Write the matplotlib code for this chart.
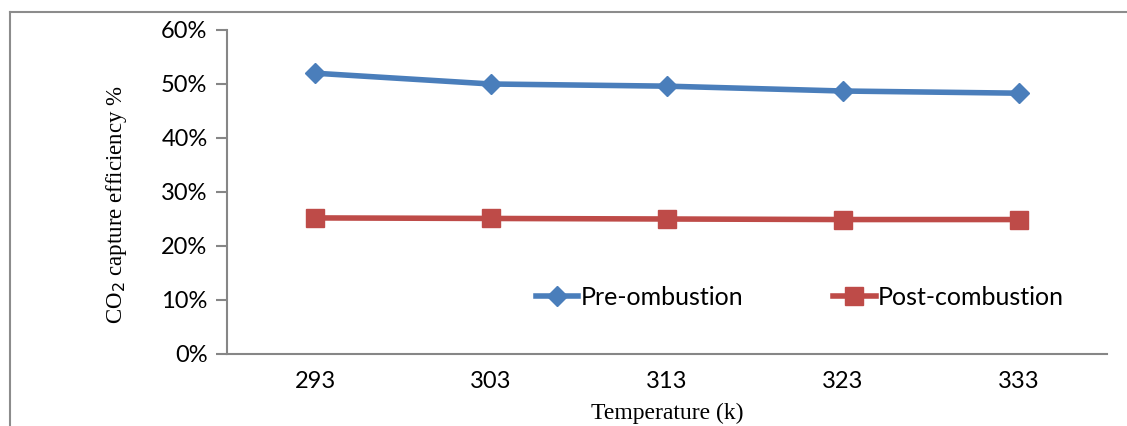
import matplotlib.pyplot as plt
from matplotlib.lines import Line2D
from matplotlib.ticker import PercentFormatter

# Data
temps = ["293", "303", "313", "323", "333"]
pre_combustion = [52.0, 50.0, 49.6, 48.7, 48.3]
post_combustion = [25.2, 25.1, 25.0, 24.9, 24.9]

W, H = 1127, 426
fig = plt.figure(figsize=(W / 100, H / 100), dpi=100)
ax = fig.add_axes([227 / W, 1 - 354 / H, (1107 - 227) / W, (354 - 30) / H])

x = range(len(temps))
ax.plot(x, pre_combustion, color="#4a7ebb", lw=4, marker="D", ms=10,
        label="Pre-ombustion")
ax.plot(x, post_combustion, color="#be4b48", lw=4, marker="s", ms=13,
        label="Post-combustion")

ax.set_xlim(-0.5, len(temps) - 0.5)
ax.set_ylim(0, 60)
ax.set_yticks(range(0, 61, 10))
ax.yaxis.set_major_formatter(PercentFormatter(decimals=0))
ax.set_xticks(list(x))
ax.set_xticklabels(temps)

for s in ["top", "right"]:
    ax.spines[s].set_visible(False)
for s in ["left", "bottom"]:
    ax.spines[s].set_color("#868686")
    ax.spines[s].set_linewidth(1.5)
ax.tick_params(axis="y", length=8, width=1.5, color="#868686",
               labelsize=17, pad=6)
ax.tick_params(axis="x", length=0, labelsize=17, pad=12)
for lbl in ax.get_xticklabels() + ax.get_yticklabels():
    lbl.set_family("Lato")

ax.set_ylabel("CO$_2$ capture efficiency %", family="Liberation Serif",
              fontsize=16.5)
ax.yaxis.set_label_coords(-98 / 880, 0.46)
ax.set_xlabel("Temperature (k)", family="Liberation Serif", fontsize=17,
              labelpad=8)

ax.legend(loc="upper left", bbox_to_anchor=(0.325, 0.28), ncol=2,
          frameon=False, prop={"family": "Lato", "size": 18},
          handlelength=1.7, handletextpad=0.1, columnspacing=3.6)

# outer chart frame
frame_col = "#8c8c8c"
fig.add_artist(Line2D([10 / W, 10 / W], [0, 1 - 12 / H], color=frame_col, lw=1.5))
fig.add_artist(Line2D([10 / W, 1], [1 - 12 / H, 1 - 12 / H], color=frame_col, lw=1.5))

fig.savefig("out.png", dpi=100)
